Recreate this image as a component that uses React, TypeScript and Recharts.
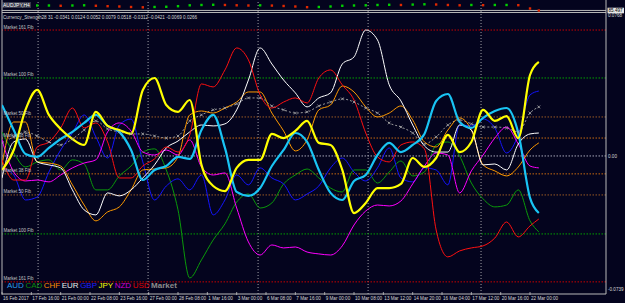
import React from 'react';
import { ComposedChart, Line, Scatter, XAxis, YAxis, ReferenceLine } from 'recharts';

// bar index (H4 bars) of each sample
const bars = [0,4,8,12,16,20,24,28,32,36,40,44,48,52,56,60,64,68,72,76,80,84,88,92,96,100,104,108,112,116,120,124,128,132,136,140,144,148,152,156,160,164,168,172,176,180,183];

// currency strength, in units of 0.0001
const AUD = [273,139,11,-5,43,91,129,177,220,161,129,32,-129,-75,-54,-5,-16,139,220,43,-193,-214,-172,-54,32,123,75,-75,-198,-236,-134,-102,5,70,21,59,118,295,332,182,150,204,241,257,123,-225,-306];
const CAD = [129,16,-59,-32,-21,-75,-21,-43,-182,-182,-107,-54,21,38,-75,-289,-654,-557,-450,-364,-247,-204,-279,-252,-150,-102,-70,-118,-172,-193,-75,-75,-145,-86,-27,-107,-86,59,75,0,-145,-230,-273,-263,-182,-348,-407];
const CHF = [-48,182,182,-32,-38,-54,-155,-263,-348,-300,-273,-182,-75,-70,-64,-5,220,241,230,257,289,343,343,230,134,27,86,247,273,375,343,263,209,230,268,193,75,48,139,204,139,-48,-80,-107,-59,32,70];
const EUR = [-118,75,91,-32,-48,-64,-182,-289,-316,-198,-214,-182,-118,-48,43,80,129,166,161,172,247,407,579,493,407,338,263,311,338,493,531,675,622,381,295,166,54,21,21,166,139,-48,-43,-75,64,118,123];
const GBP = [-64,-102,-236,-220,-86,32,123,220,102,-11,166,198,-32,-236,-161,-123,-182,-102,-316,-236,-102,-155,-64,-118,-150,-236,-204,-161,-64,-11,-86,-134,-64,43,-118,-139,-64,-75,-155,166,161,198,150,16,113,327,348];
const JPY = [-75,32,247,354,220,145,91,59,236,161,139,118,354,418,273,236,300,-48,-161,-188,-64,-21,-21,118,96,134,188,70,59,-75,-306,-252,-172,-172,-150,-11,-59,-11,113,21,75,247,188,214,96,434,504];
const NZD = [86,-86,-134,-129,-139,-102,-64,-38,-21,129,177,134,21,5,32,5,86,-59,-102,-91,-279,-461,-531,-477,-493,-488,-515,-525,-531,-482,-370,-295,-263,-268,-241,-150,-54,16,5,-198,-80,5,96,155,64,-54,-64];
const USD = [-21,-129,-129,48,75,150,257,150,177,75,-118,-118,-54,-16,48,21,113,386,370,461,579,515,327,257,289,311,284,418,461,381,300,123,-5,-32,59,75,38,-397,-541,-509,-493,-482,-440,-354,-434,-375,-338];
const MARKET = [70,102,129,107,75,59,91,139,188,145,129,118,118,107,96,107,188,220,247,257,279,311,311,268,247,230,236,268,289,306,289,257,230,177,155,123,64,102,166,193,172,155,155,150,129,230,263];

// AUDJPY price (top strip)
const PRICE: (number | null)[] = [null,null,null,86.75,86.75,86.68,86.75,86.80,86.68,86.58,86.50,86.38,86.30,86.38,86.43,86.58,86.80,86.88,86.93,86.88,86.80,86.75,86.80,86.73,86.63,86.50,86.33,86.38,86.50,86.68,86.75,86.80,86.88,86.93,86.88,86.98,87.05,87.00,86.88,86.80,86.88,86.83,86.88,86.88,86.83,86.00,85.50];
const lastPrice = 85.497;

const labelBars = [0,10,20,30,40,50,60,70,80,90,100,110,120,130,140,150,160,170,180];
const timeLabels = ['16 Feb 2017','17 Feb 16:00','21 Feb 00:00','22 Feb 08:00','23 Feb 16:00','27 Feb 00:00','28 Feb 08:00','1 Mar 16:00','3 Mar 00:00','6 Mar 08:00','7 Mar 16:00','9 Mar 00:00','10 Mar 08:00','13 Mar 12:00','14 Mar 20:00','16 Mar 04:00','17 Mar 12:00','20 Mar 16:00','22 Mar 00:00'];
const gridBars = [12.3, 49.8, 87.3, 124.8, 163.3];

const fibValues = [675, 418, 209, 96, -96, -209, -418, -675];
const fibNames = ['Market 161 Fib','Market 100 Fib','Market 50 Fib','Market 38 Fib','Market 38 Fib','Market 50 Fib','Market 100 Fib','Market 161 Fib'];
const axisTicks = [768, 0, -739];
const headerValues = ['-0.0341','0.0124','0.0052','0.0079','0.0518','-0.0312','-0.0421','-0.0069','0.0266'];
const seriesNames = ['AUD','CAD','CHF','EUR','GBP','JPY','NZD','USD','Market'];

const BG = '#04041e';
const FONT = '"Liberation Sans", Arial, sans-serif';
const fibColor = ['#c80000','#00a000','#9a5a24','#c86a10','#c86a10','#9a5a24','#00a000','#c80000'];
const lineColor: Record<string, string> = { AUD:'#19c4f4', CAD:'#0a9a0a', CHF:'#ff9a00', EUR:'#ffffff', GBP:'#1414ff', JPY:'#ffff00', NZD:'#ff00ff', USD:'#ff1010', Market:'#9a9a9a' };
const legendColor: Record<string, string> = { AUD:'#2a9be6', CAD:'#0a8a0a', CHF:'#ff8c00', EUR:'#e8e8e8', GBP:'#2020ff', JPY:'#ffff00', NZD:'#d000d0', USD:'#e00000', Market:'#8c8c8c' };

const rows = bars.map((bar, i) => ({
  bar,
  AUD: AUD[i], CAD: CAD[i], CHF: CHF[i], EUR: EUR[i], GBP: GBP[i],
  JPY: JPY[i], NZD: NZD[i], USD: USD[i], Market: MARKET[i],
  price: PRICE[i],
  up: i > 0 && PRICE[i] != null && PRICE[i - 1] != null ? (PRICE[i] as number) >= (PRICE[i - 1] as number) : true,
}));

const XTick = (props: any) => {
  const { x, y, payload } = props;
  const idx = labelBars.indexOf(payload.value);
  return (
    <g>
      <line x1={x} y1={y - 2} x2={x} y2={y + 1} stroke="#c0c0c0" strokeWidth={0.8} />
      <text x={x + 1} y={y + 5.6} fontSize={4.6} fill="#d4d4d4" fontFamily={FONT} textAnchor="start">{timeLabels[idx]}</text>
    </g>
  );
};

const YTick = (props: any) => {
  const { x, y, payload } = props;
  const v = payload.value;
  const dy = v > 0 ? 3.9 : v < 0 ? -2.6 : 1.6;
  const txt = v === 0 ? '0.00' : (v / 10000).toFixed(4);
  return <text x={x} y={y + dy} fontSize={4.6} fill="#d8d8d8" fontFamily={FONT} textAnchor="start">{txt}</text>;
};

const PriceTag = (props: any) => {
  const vb = props.viewBox || {};
  const x = (vb.x || 0) + (vb.width || 0) + 1.5;
  const y = vb.y || 0;
  return (
    <g>
      <rect x={x} y={y - 2.8} width={16.5} height={5.6} fill="#e6e6e6" />
      <text x={x + 1} y={y + 1.7} fontSize={4.6} fill="#000000" fontFamily={FONT}>{lastPrice.toFixed(3)}</text>
    </g>
  );
};

const PriceBox = (props: any) => {
  const { cx, cy, payload } = props;
  if (payload == null || payload.price == null || cx == null || cy == null || isNaN(cy)) return <g />;
  const c = payload.up ? '#00d000' : '#e02800';
  return <rect x={cx - 1.2} y={cy - 1.2} width={2.4} height={2.4} fill={c} />;
};

const XMark = (props: any) => {
  const { cx, cy, index } = props;
  if (cx == null || cy == null) return <g key={'m' + index} />;
  return (
    <g key={'m' + index}>
      <line x1={cx - 1.4} y1={cy - 1.4} x2={cx + 1.4} y2={cy + 1.4} stroke="#a8a8a8" strokeWidth={0.8} />
      <line x1={cx - 1.4} y1={cy + 1.4} x2={cx + 1.4} y2={cy - 1.4} stroke="#a8a8a8" strokeWidth={0.8} />
    </g>
  );
};

export default function App() {
  const thin = ['CAD', 'GBP', 'NZD', 'CHF', 'EUR', 'USD'];
  return (
    <div style={{ position: 'absolute', left: 0, top: 0, width: 625, height: 303, background: BG, overflow: 'hidden' }}>
      <ComposedChart width={625} height={303} data={rows} margin={{ top: 0, right: 0, bottom: 0, left: 2 }}>
        <XAxis dataKey="bar" type="number" domain={[0, 205.9]} ticks={labelBars} interval={0} tick={XTick}
          tickLine={false} axisLine={false} height={9} tickSize={0} tickMargin={0} allowDataOverflow />
        <YAxis yAxisId="s" orientation="right" width={19} domain={[-740, 836]} ticks={axisTicks} interval={0}
          tick={YTick} tickLine={false} axisLine={false} tickSize={0} tickMargin={2} allowDataOverflow />
        <YAxis yAxisId="p" hide domain={[14.625, 88.125]} allowDataOverflow />

        {gridBars.map((b) => (
          <ReferenceLine key={'g' + b} yAxisId="s" x={b} stroke="#c8c8c8" strokeDasharray="1 2" strokeWidth={0.8} />
        ))}
        {fibValues.map((v, i) => (
          <ReferenceLine key={'f' + i} yAxisId="s" y={v} stroke={fibColor[i]} strokeDasharray="1.5 1.5" strokeWidth={1}
            label={{ value: fibNames[i], position: 'insideBottomLeft', offset: 1.5, fill: '#c4c4c4', fontSize: 4.5, fontFamily: FONT }} />
        ))}
        <ReferenceLine yAxisId="s" y={0} stroke="#a8a8b8" strokeDasharray="1.5 1.5" />
        <ReferenceLine yAxisId="s" y={780} stroke="#b8b8b8" strokeWidth={1} />
        <ReferenceLine yAxisId="s" y={769} stroke="#b8b8b8" strokeWidth={1} />
        <ReferenceLine yAxisId="s" y={-740} stroke="#b8b8b8" strokeWidth={1} />
        <ReferenceLine yAxisId="s" x={0} stroke="#b8b8b8" strokeWidth={1} />
        <ReferenceLine yAxisId="s" x={205.9} stroke="#b8b8b8" strokeWidth={1} />
        <ReferenceLine yAxisId="p" y={lastPrice} stroke="none" label={<PriceTag />} />

        <Scatter yAxisId="p" dataKey="price" shape={PriceBox} isAnimationActive={false} />

        <Line yAxisId="s" type="monotone" dataKey="Market" stroke={lineColor.Market} strokeWidth={1}
          strokeDasharray="2 2" dot={XMark} activeDot={false} isAnimationActive={false} />
        {thin.map((k) => (
          <Line key={k} yAxisId="s" type="monotone" dataKey={k} stroke={lineColor[k]} strokeWidth={1}
            dot={false} activeDot={false} isAnimationActive={false} />
        ))}
        <Line yAxisId="s" type="monotone" dataKey="AUD" stroke={lineColor.AUD} strokeWidth={2.2}
          dot={false} activeDot={false} isAnimationActive={false} />
        <Line yAxisId="s" type="monotone" dataKey="JPY" stroke={lineColor.JPY} strokeWidth={2.2}
          dot={false} activeDot={false} isAnimationActive={false} />
      </ComposedChart>

      <div style={{ position: 'absolute', left: 2, top: 2, fontFamily: FONT, fontSize: 5, lineHeight: '6px',
        color: '#ffffff', background: 'rgba(120,120,130,0.45)', padding: '0 1px' }}>AUDJPY,H4</div>
      <div style={{ position: 'absolute', left: 3, top: 14.5, fontFamily: FONT, fontSize: 4.6, lineHeight: '5px',
        color: '#d4d4d4', whiteSpace: 'nowrap' }}>
        {'Currency_Strength28 31 ' + headerValues.join(' ')}
      </div>
      <div style={{ position: 'absolute', left: 7, top: 281, display: 'flex', gap: 1.5, fontFamily: FONT,
        fontSize: 8, lineHeight: '10px', whiteSpace: 'nowrap' }}>
        {seriesNames.map((n) => (
          <span key={n} style={{ color: legendColor[n], fontWeight: n === 'Market' ? 700 : 400 }}>{n}</span>
        ))}
      </div>
    </div>
  );
}
